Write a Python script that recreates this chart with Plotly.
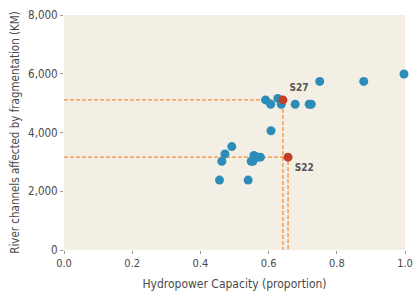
import plotly.graph_objects as go

hydro_x = [0.997, 0.879, 0.75, 0.591, 0.627, 0.606, 0.637, 0.678, 0.719, 0.725,
           0.607, 0.492, 0.472, 0.463, 0.557, 0.549, 0.554, 0.576, 0.569, 0.456, 0.540]
river_y = [5990, 5740, 5740, 5110, 5160, 4960, 4960, 4960, 4960, 4960,
           4060, 3520, 3270, 3020, 3220, 3020, 3020, 3160, 3160, 2380, 2380]

hl_names = ["S27", "S22"]
hl_x = [0.642, 0.657]
hl_y = [5110, 3160]

x_ticks = [0.0, 0.2, 0.4, 0.6, 0.8, 1.0]
y_ticks = [0, 2000, 4000, 6000, 8000]

font_fam = "DejaVu Sans Condensed, Roboto, sans-serif"
orange = "#f5903d"

fig = go.Figure()

for hx, hy in zip(hl_x, hl_y):
    fig.add_trace(go.Scatter(x=[0, hx, hx], y=[hy, hy, 0], mode="lines",
                             line=dict(color=orange, width=1.3, dash="4px,2px"),
                             hoverinfo="skip", showlegend=False))

fig.add_trace(go.Scatter(x=hydro_x, y=river_y, mode="markers",
                         marker=dict(color="#2b8db8", size=9),
                         cliponaxis=False, showlegend=False))
fig.add_trace(go.Scatter(x=hl_x, y=hl_y, mode="markers+text", text=hl_names,
                         textposition=["top right", "bottom right"],
                         textfont=dict(size=10, color="#555", family=font_fam, weight="bold"),
                         marker=dict(color="#c2402a", size=9),
                         cliponaxis=False, showlegend=False))

fig.update_layout(
    width=414, height=298,
    margin=dict(l=64, r=9, t=15, b=48, autoexpand=False),
    paper_bgcolor="white", plot_bgcolor="#f3efe4",
    font=dict(family=font_fam, size=12, color="#4a4a4a"),
    xaxis=dict(range=[0, 1.0], tickvals=x_ticks, tickformat=".1f",
               showgrid=False, zeroline=False, ticks="outside", ticklen=3,
               tickcolor="#999", automargin=False, ticklabeloverflow="allow",
               title=dict(text="Hydropower Capacity (proportion)", standoff=10, font=dict(size=12)),
               tickfont=dict(size=11)),
    yaxis=dict(range=[0, 8000], tickvals=y_ticks, tickformat=",",
               showgrid=False, zeroline=False, ticks="outside", ticklen=3,
               tickcolor="#999", automargin=False,
               title=dict(text="River channels affected by fragmentation (KM)", standoff=6, font=dict(size=11.5)),
               tickfont=dict(size=11.5)),
)

# remove the default 8px page margin so the figure fills the window exactly
fig.write_html("out.html", config={"displayModeBar": False},
               post_script="document.body.style.margin='0px';")
